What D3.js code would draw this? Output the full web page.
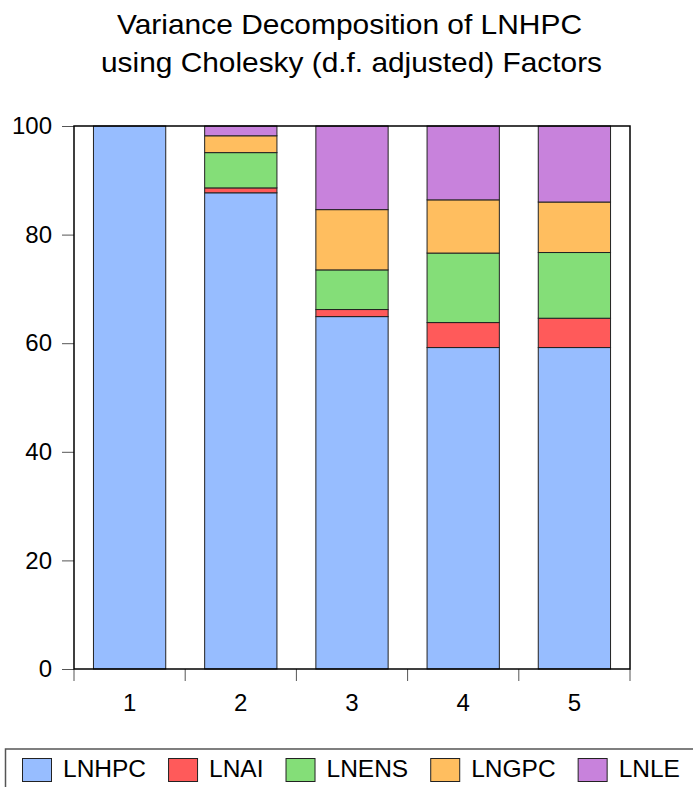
<!DOCTYPE html>
<html lang="en">
<head>
    <meta charset="UTF-8">
    <title>Variance Decomposition of LNHPC</title>
    <script src="https://cdn.jsdelivr.net/npm/d3@7/dist/d3.min.js"></script>
    <style>
        body { margin: 0; background: #fff; }
        text { font-family: Arial, "Liberation Sans", sans-serif; fill: #000; }
    </style>
</head>
<body>
    <script>
        // periods and series (percent of forecast error variance)
        var periods = ['1', '2', '3', '4', '5'];
        var seriesNames = ['LNHPC', 'LNAI', 'LNENS', 'LNGPC', 'LNLE'];
        var lnhpc = [100, 87.7, 64.9, 59.2, 59.2];
        var lnai  = [0, 0.9, 1.3, 4.6, 5.4];
        var lnens = [0, 6.5, 7.3, 12.8, 12.1];
        var lngpc = [0, 3.1, 11.1, 9.8, 9.3];
        var lnle  = [0, 1.8, 15.4, 13.6, 14.0];
        var yTicks = [0, 20, 40, 60, 80, 100];
        var colors = ['#97bdff', '#ff5a5a', '#84de78', '#ffbe5f', '#c882dc'];

        var w = 693;
        var h = 787;
        // plot box edges
        var pLeft = 74, pRight = 630, pTop = 126, pBottom = 669;

        // build rows for the stack
        var rows = periods.map(function(p, i) {
            return { period: p, LNHPC: lnhpc[i], LNAI: lnai[i], LNENS: lnens[i], LNGPC: lngpc[i], LNLE: lnle[i] };
        });

        var svg = d3.select('body')
                    .append('svg')
                    .attr('width', w)
                    .attr('height', h);

        //title (the original is a bit wide, so stretch to its length)
        var title = svg.append('text')
            .attr('text-anchor', 'middle')
            .attr('font-size', '28px');
        title.append('tspan').attr('x', 349.5).attr('y', 34).text('Variance Decomposition of LNHPC')
            .attr('textLength', 465).attr('lengthAdjust', 'spacingAndGlyphs');
        title.append('tspan').attr('x', 351.5).attr('y', 72).text('using Cholesky (d.f. adjusted) Factors')
            .attr('textLength', 501).attr('lengthAdjust', 'spacingAndGlyphs');

        //scales
        var x = d3.scaleBand()
            .domain(periods)
            .range([pLeft, pRight])
            .paddingInner(0.35)
            .paddingOuter(0.175);

        var y = d3.scaleLinear()
            .domain([0, 100])
            .range([pBottom, pTop]);

        var stack = d3.stack().keys(seriesNames);
        var layers = stack(rows);

        //bars
        svg.selectAll('g.layer')
            .data(layers)
            .enter()
            .append('g')
            .attr('class', 'layer')
            .attr('fill', function(d, i) { return colors[i]; })
            .selectAll('rect')
            .data(function(d) { return d.filter(function(s) { return s[1] - s[0] > 0; }); })
            .enter()
            .append('rect')
            .attr('x', function(d) { return x(d.data.period); })
            .attr('y', function(d) { return y(d[1]); })
            .attr('width', x.bandwidth())
            .attr('height', function(d) { return y(d[0]) - y(d[1]); })
            .attr('stroke', '#222')
            .attr('stroke-width', 1);

        //y axis
        var yAxis = svg.append('g')
            .attr('transform', 'translate(' + pLeft + ',0)')
            .call(d3.axisLeft(y).tickValues(yTicks).tickSize(12).tickPadding(10));
        yAxis.select('.domain').remove();
        yAxis.selectAll('line').attr('stroke', '#555');
        yAxis.selectAll('text')
            .attr('font-size', '24px')
            .attr('font-family', 'Arial, "Liberation Sans", sans-serif')
            .attr('fill', '#000');

        //x axis ticks between periods
        var step = x.step();
        var xAxis = svg.append('g')
            .attr('transform', 'translate(0,' + pBottom + ')');
        xAxis.selectAll('line')
            .data(d3.range(periods.length + 1))
            .enter()
            .append('line')
            .attr('x1', function(i) { return pLeft + i * step; })
            .attr('x2', function(i) { return pLeft + i * step; })
            .attr('y1', 0)
            .attr('y2', 12)
            .attr('stroke', '#555');
        xAxis.selectAll('text')
            .data(periods)
            .enter()
            .append('text')
            .attr('x', function(d) { return x(d) + x.bandwidth() / 2; })
            .attr('y', 42)
            .attr('text-anchor', 'middle')
            .attr('font-size', '24px')
            .text(function(d) { return d; });

        //frame
        svg.append('rect')
            .attr('x', pLeft)
            .attr('y', pTop)
            .attr('width', pRight - pLeft)
            .attr('height', pBottom - pTop)
            .attr('fill', 'none')
            .attr('stroke', '#000')
            .attr('stroke-width', 1.5);

        //legend
        svg.append('rect')
            .attr('x', 5.5)
            .attr('y', 749)
            .attr('width', 720)
            .attr('height', 80)
            .attr('fill', 'none')
            .attr('stroke', '#555')
            .attr('stroke-width', 1.5);

        var lx = 22;
        seriesNames.forEach(function(name, i) {
            svg.append('rect')
                .attr('x', lx + 0.5)
                .attr('y', 758.5)
                .attr('width', 29)
                .attr('height', 23)
                .attr('fill', colors[i])
                .attr('stroke', '#222');
            var t = svg.append('text')
                .attr('x', lx + 41)
                .attr('y', 777)
                .attr('font-size', '24.5px')
                .text(name);
            lx = lx + 41 + t.node().getComputedTextLength() + 22;
        });

    </script>
</body>
</html>
